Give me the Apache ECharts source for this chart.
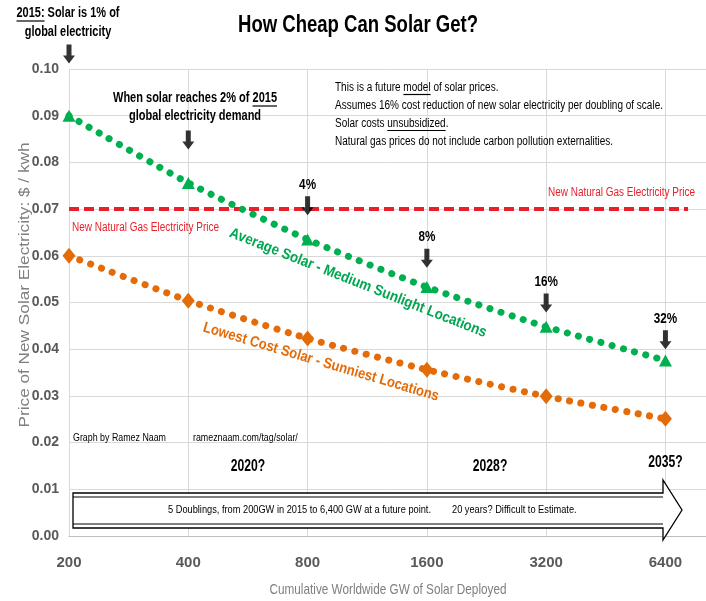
<!DOCTYPE html>
<html><head><meta charset="utf-8">
<script src="https://cdn.jsdelivr.net/npm/echarts@6/dist/echarts.min.js"></script>
<style>html,body{margin:0;padding:0;background:#fff}#c{width:706px;height:601px}</style>
</head><body><div id="c"></div>
<script>
// ---- data ----
const gwTicks = [200, 400, 800, 1600, 3200, 6400];
const avgSolar = [0.0900, 0.0756, 0.0635, 0.0533, 0.0448, 0.0376];
const lowSolar = [0.0600, 0.0504, 0.0423, 0.0356, 0.0299, 0.0251];
const gasGW = [200, 7300];
const gasPrice = [0.07, 0.07];
const arrowGW = [200, 400, 800, 1600, 3200, 6400];
const arrowY = [0.1032, 0.0848, 0.0707, 0.0595, 0.0499, 0.0420];
const arrowText = ['', '', '4%', '8%', '16%', '32%'];
const yearGW = [566, 2310, 6400];
const yearY = [0.0148, 0.0148, 0.0157];
const yearText = ['2020?', '2028?', '2035?'];
const notes = [
  ['This is a future ', 'model', ' of solar prices.'],
  ['Assumes 16% cost reduction of new solar electricity per doubling of scale.', '', ''],
  ['Solar costs ', 'unsubsidized', '.'],
  ['Natural gas prices do not include carbon pollution externalities.', '', '']
];

// ---- styling ----
const GREEN = '#00b050', GREEN_TXT = '#00a650', ORANGE = '#e36c09', RED = '#e8202a';
const SANS = "'Liberation Sans',Arial,sans-serif";
const X = g => Math.log2(g / 200);

const mctx = document.createElement('canvas').getContext('2d');
function tw(text, font) { mctx.font = font; return mctx.measureText(text).width; }
const graphics = [];
function txt(x, y, text, font, fill, align, sx, rot) {
  graphics.push({ type: 'text', x: x, y: y, z: 100, scaleX: sx || 1, rotation: rot || 0, silent: true,
    style: { text: text, font: font, fill: fill, align: align || 'left', verticalAlign: 'middle' } });
}
function uline(x1, x2, y, color) {
  graphics.push({ type: 'line', z: 100, silent: true, shape: { x1: x1, y1: y, x2: x2, y2: y }, style: { stroke: color || '#000', lineWidth: 1.2 } });
}

const ARROW = 'path://M3.5,0 L8.5,0 L8.5,11 L12,11 L6,19 L0,11 L3.5,11 Z';

const chart = echarts.init(document.getElementById('c'), null, { renderer: 'canvas' });
chart.setOption({
  animation: false,
  grid: { left: 69, right: 0, top: 69, bottom: 65, containLabel: false, outerBoundsMode: 'none' },
  xAxis: {
    type: 'value', min: 0, max: 5.34, interval: 1,
    axisLine: { show: true, lineStyle: { color: '#bfbfbf', width: 1 } },
    axisTick: { show: false },
    axisLabel: {
      formatter: v => (Number.isInteger(v) && v < gwTicks.length) ? String(gwTicks[v]) : '',
      color: '#595959', fontFamily: SANS, fontWeight: 'bold', fontSize: 15, margin: 19, showMaxLabel: false
    },
    splitLine: { show: true, showMaxLine: false, lineStyle: { color: '#d9d9d9' } }
  },
  yAxis: {
    type: 'value', min: 0, max: 0.1, interval: 0.01,
    axisLine: { show: true, lineStyle: { color: '#d9d9d9' } },
    axisTick: { show: false },
    axisLabel: { formatter: v => v.toFixed(2), color: '#595959', fontFamily: SANS, fontWeight: 'bold', fontSize: 14, margin: 10 },
    splitLine: { show: true, lineStyle: { color: '#d9d9d9' } }
  },
  series: [
    { type: 'line', name: 'gas', data: gasGW.map((g, i) => [X(g), gasPrice[i]]), symbol: 'none',
      lineStyle: { color: RED, width: 4, type: [10, 5] }, z: 2, silent: true },
    { type: 'line', name: 'avg', data: gwTicks.map((g, i) => [X(g), avgSolar[i]]), smooth: 0.2,
      symbol: 'triangle', symbolSize: [13, 12], itemStyle: { color: GREEN },
      lineStyle: { color: GREEN, width: 7, type: [0.1, 11.5], cap: 'round' }, z: 3, silent: true },
    { type: 'line', name: 'low', data: gwTicks.map((g, i) => [X(g), lowSolar[i]]), smooth: 0.2,
      symbol: 'diamond', symbolSize: [13, 16], itemStyle: { color: ORANGE },
      lineStyle: { color: ORANGE, width: 7, type: [0.1, 11.5], cap: 'round' }, z: 3, silent: true },
    { type: 'scatter', name: 'arrows', clip: false, silent: true, z: 5,
      data: arrowGW.map((g, i) => [X(g), arrowY[i]]),
      symbol: ARROW, symbolSize: [12, 19], itemStyle: { color: '#000' } }
  ]
});

// ---- annotations (positions from the chart's own scales where tied to data) ----
const P = (g, y) => chart.convertToPixel({ gridIndex: 0 }, [X(g), y]);

arrowText.forEach((t, i) => {
  if (!t) return;
  const p = P(arrowGW[i], arrowY[i]);
  txt(p[0], p[1] - 21, t, 'bold 15px ' + SANS, '#000', 'center', 0.78);
});
yearText.forEach((t, i) => {
  const p = P(yearGW[i], yearY[i]);
  txt(p[0], p[1], t, 'bold 16px ' + SANS, '#000', 'center', 0.76);
});

(function () {
  const f = 'bold 24px ' + SANS, t = 'How Cheap Can Solar Get?';
  txt(358, 25, t, f, '#000', 'center', 240 / tw(t, f));
})();
(function () {
  const f = 'bold 14px ' + SANS, p = P(200, 0.1);
  const cx = p[0] - 1;
  const l1 = '2015: Solar is 1% of';
  const s = 103 / tw(l1, f);
  txt(cx, 13, l1, f, '#000', 'center', s);
  txt(cx, 32, 'global electricity', f, '#000', 'center', s);
  const x0 = cx - tw(l1, f) * s / 2;
  uline(x0, x0 + tw('2015:', f) * s, 21);
})();
(function () {
  const f = 'bold 14px ' + SANS, cx = 195;
  const l1 = 'When solar reaches 2% of 2015';
  const s = 164 / tw(l1, f);
  txt(cx, 98, l1, f, '#000', 'center', s);
  txt(cx, 116, 'global electricity demand', f, '#000', 'center', s);
  const x0 = cx - tw(l1, f) * s / 2 + tw('When solar reaches 2% of ', f) * s;
  uline(x0, x0 + tw('2015', f) * s, 106);
})();
(function () {
  const f = '12px ' + SANS, x0 = 335, ys = [88, 106, 124, 142];
  const s = 328 / tw(notes[1][0], f);
  notes.forEach((n, i) => {
    txt(x0, ys[i], n.join(''), f, '#000', 'left', s);
    if (n[1]) {
      const a = x0 + tw(n[0], f) * s;
      uline(a, a + tw(n[1], f) * s, ys[i] + 6.5, '#000');
    }
  });
})();
(function () {
  const f = '12px ' + SANS, t = 'New Natural Gas Electricity Price';
  const s = 147 / tw(t, f);
  txt(72, 228, t, f, RED, 'left', s);
  txt(548, 193, t, f, RED, 'left', s);
})();
(function () {
  const f = 'bold 15px ' + SANS;
  const g = 'Average Solar - Medium Sunlight Locations';
  const o = 'Lowest Cost Solar - Sunniest Locations';
  txt(358, 283, g, f, GREEN_TXT, 'center', 275 / tw(g, f), -21.5 * Math.PI / 180);
  txt(321, 362, o, f, ORANGE, 'center', 245 / tw(o, f), -16.5 * Math.PI / 180);
})();
(function () {
  const f = '11px ' + SANS, a = 'Graph by Ramez Naam', b = 'rameznaam.com/tag/solar/';
  const s = 93 / tw(a, f);
  txt(73, 438, a, f, '#000', 'left', s);
  txt(193, 438, b, f, '#000', 'left', s);
})();
graphics.push({ type: 'polygon', z: 90, silent: true, shape: { points: [[73, 493], [663, 493], [663, 480], [682, 510], [663, 540], [663, 528], [73, 528]] },
  style: { fill: '#fff', stroke: '#000', lineWidth: 1.3 } });
graphics.push({ type: 'polyline', z: 91, silent: true, shape: { points: [[73, 497], [663, 497]] }, style: { stroke: '#000', lineWidth: 1, fill: null } });
graphics.push({ type: 'polyline', z: 91, silent: true, shape: { points: [[73, 524], [663, 524]] }, style: { stroke: '#000', lineWidth: 1, fill: null } });
(function () {
  const f = '11px ' + SANS, a = '5 Doublings, from 200GW in 2015 to 6,400 GW at a future point.', b = '20 years? Difficult to Estimate.';
  const s = 263 / tw(a, f);
  txt(168, 510, a, f, '#000', 'left', s);
  txt(452, 510, b, f, '#000', 'left', s);
})();
(function () {
  const fy = '15px ' + SANS, ty = 'Price of New Solar Electricity: $ / kwh';
  txt(25, 285, ty, fy, '#7f7f7f', 'center', 285 / tw(ty, fy), Math.PI / 2);
  const fx = '15px ' + SANS, tx = 'Cumulative Worldwide GW of Solar Deployed';
  txt(388, 590, tx, fx, '#7f7f7f', 'center', 237 / tw(tx, fx));
})();

chart.setOption({ graphic: graphics });
</script>
</body></html>
